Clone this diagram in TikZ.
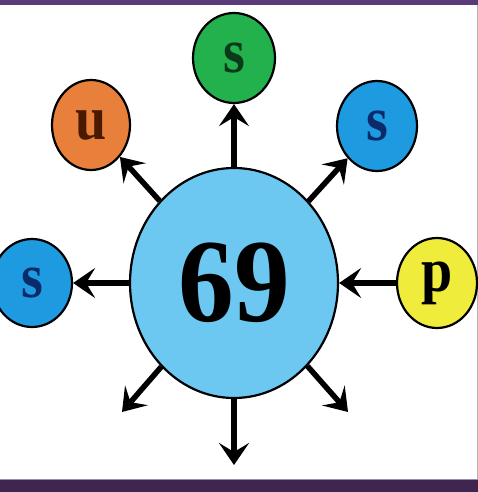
\documentclass[tikz,border=0pt]{standalone}
\usepackage{fontspec}
\setmainfont{Liberation Serif}
\usetikzlibrary{shapes.geometric,arrows.meta}
\definecolor{frame}{HTML}{5A3A78}
\definecolor{framedark}{HTML}{3F2650}
\definecolor{mainblue}{HTML}{6CC8F0}
\definecolor{smallblue}{HTML}{1E9BE0}
\definecolor{ggreen}{HTML}{22B14C}
\definecolor{oorange}{HTML}{E8803C}
\definecolor{yyellow}{HTML}{F0EC3C}
\definecolor{navy}{HTML}{0A2A6A}
\definecolor{brownish}{HTML}{4A1A00}
\definecolor{dgreen}{HTML}{0A3A1A}
\tikzset{
  ball/.style={ellipse, draw=black, line width=2.2pt, inner sep=0pt,
    minimum width=80pt, minimum height=90pt},
  arr/.style={line width=5.5pt, -{Stealth[length=22pt,width=30pt,inset=9pt]}},
}
\newcommand{\lett}[1]{\scalebox{1}[1.12]{\fontsize{56}{56}\selectfont\bfseries #1}}
\begin{document}
\begin{tikzpicture}[x=1pt,y=-1pt]
\useasboundingbox (0,0) rectangle (478,492);
\fill[white] (0,0) rectangle (478,492);
\fill[frame] (0,0) rectangle (478,5);
\fill[framedark] (0,479) rectangle (478,492);
\draw[frame!60, line width=1pt] (0,479.5) -- (478,479.5);
\draw[gray!60, line width=1pt] (477.5,5) -- (477.5,479);

\node[ball, fill=mainblue, minimum width=208pt, minimum height=230pt] (c) at (234,283)
  {\scalebox{1.05}[1.12]{\fontsize{106}{106}\selectfont\bfseries 69}};
\node[ball, fill=ggreen, minimum width=82pt] (g) at (234,58) {\color{dgreen}\lett{s}};
\node[ball, fill=oorange, minimum width=78pt] (o) at (91,125) {\color{brownish}\lett{u}};
\node[ball, fill=smallblue] (tr) at (377,126) {\color{navy}\lett{s}};
\node[ball, fill=smallblue, minimum width=80pt, minimum height=88pt] (l) at (32,283) {\color{navy}\lett{s}};
\node[ball, fill=yyellow] (p) at (437,283) {\color{black}\lett{p}};

\coordinate (dl) at (122,412);
\coordinate (dd) at (234,465);
\coordinate (dr) at (348,412);

\draw[arr] (c) -- (g);
\draw[arr] (c) -- (o);
\draw[arr] (c) -- (tr);
\draw[arr] (c) -- (l);
\draw[arr] (p) -- (c);
\draw[arr] (c) -- (dl);
\draw[arr] (c) -- (dd);
\draw[arr] (c) -- (dr);
\end{tikzpicture}
\end{document}
